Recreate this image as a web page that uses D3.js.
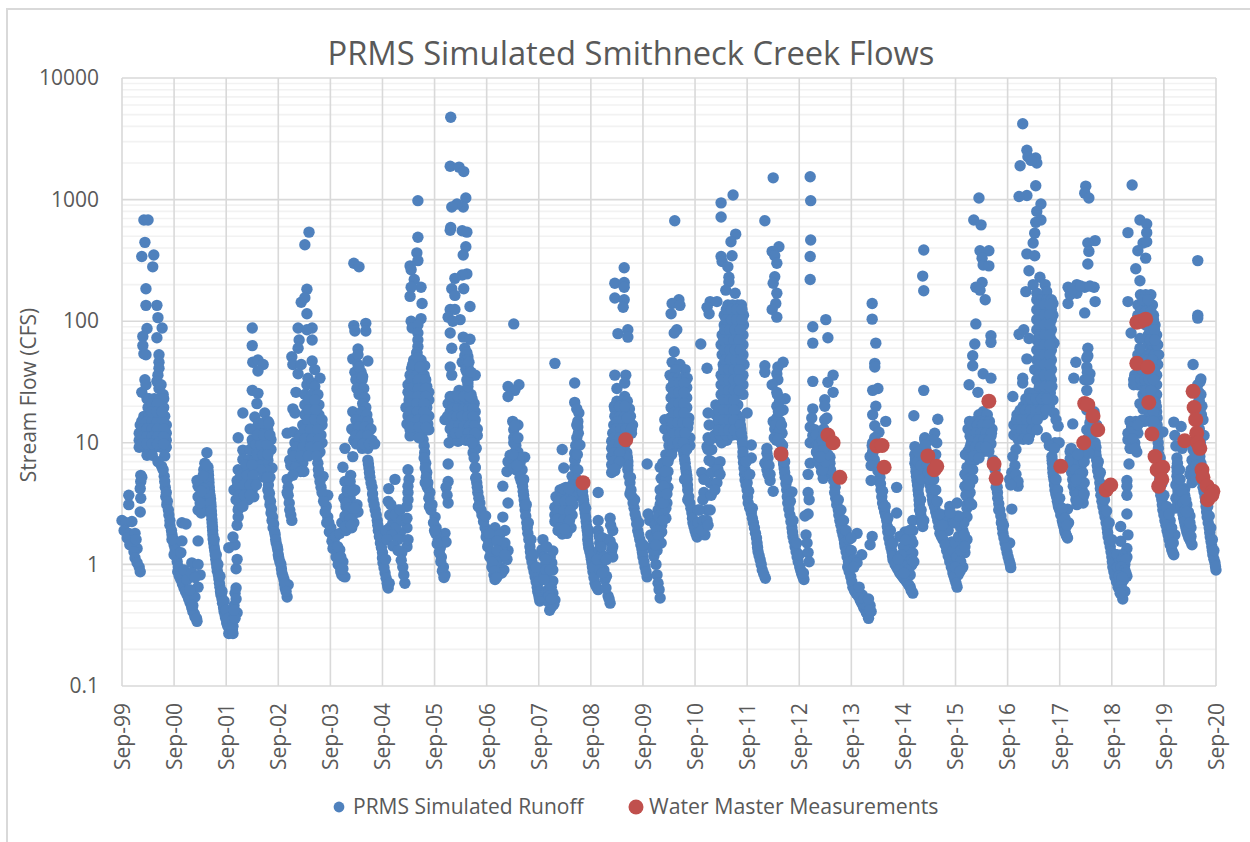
<!DOCTYPE html>
<html>
<head>
<meta charset="utf-8">
<script src="https://cdn.jsdelivr.net/npm/d3@7"></script>
<style>
  html, body { margin: 0; background: #fff; }
  svg { display: block; }
  text { font-family: "Open Sans", sans-serif; fill: #595959; }
</style>
</head>
<body>
<div id="chart"></div>
<script>
// each season: [years after that September, flow in cfs]
const season99 = [[0,2.3],[.08,2.2],[.19,2.25],[.04,1.9],[.13,1.8],[.1,1.65],[.25,1.8],[.15,1.45],[.29,1.35],[.23,1.27],[.25,1.13],[.29,1.03],[.33,.95],[.35,.87],[.27,1.6],[.13,3.7],[.13,3.1],[.36,3.5],[.35,2.7],[.36,5.4],[.36,4.8],[.35,4.2],[.38,5.2],
[.42,680],[.5,680],[.44,445],[.38,340],[.61,350],[.59,280],[.46,185],[.46,135],[.67,135],[.69,107],[.77,88],[.48,87],[.4,75],[.67,73],[.4,63],[.42,54],[.46,53],[.71,53],[.71,46],[.71,41],[.69,36],[.67,32],[.71,28],[.75,30],[.79,25],[.44,33],[.38,26],[.46,30],[.48,23],
[.52,23],[.62,23],[.72,23],[.8,23],[.5,19.5],[.6,19.5],[.7,19.5],[.8,19.5],[.42,16.5],[.52,16.5],[.62,16.5],[.72,16.5],[.82,16.5],[.35,14],[.45,14],[.55,14],[.65,14],[.75,14],[.85,14],[.33,12],[.43,12],[.53,12],[.63,12],[.73,12],[.85,12],[.33,10.5],[.43,10.5],[.53,10.5],[.63,10.5],[.73,10.5],[.85,10.5],[.33,9.2],[.43,9.2],[.53,9.2],[.63,9.2],[.75,9.2],[.85,9.2],[.48,7.9],[.58,7.9],[.82,7.8],
[.69,7],[.76,6.4],[.81,5.3],[.83,4.3],[.84,3.6],[.86,3.1],[.9,2.55],[.92,2.1],[.96,1.75],[1,1.45],[1.02,1.25],[1.06,1.05],[1.07,.87],[1.13,.75],[1.19,.64],[1.25,.56],[1.31,.48],[1.36,.41],[1.4,.37],[1.44,.34],
[.79,6],[.82,4.8],[.85,3.9],[.87,3.3],[.89,2.8],[.92,2.3],[.95,1.9],[.99,1.6],[1.02,1.35],[1.05,1.15],[1.08,.95],[1.1,.8],[1.16,.69],[1.22,.6],[1.28,.52],[1.34,.44],[1.39,.39],[1.43,.36],[1,1.2],[.96,1.6],
[.38,15],[.48,15],[.58,15],[.68,15],[.78,15],[.38,13],[.48,13],[.58,13],[.68,13],[.8,13],[.38,11.2],[.48,11.2],[.58,11.2],[.68,11.2],[.8,11.2],[.38,9.8],[.48,9.8],[.58,9.8],[.68,9.8],[.8,9.8],[.58,21],[.68,21],[.57,18],[.67,18],[.77,18]];
const season00 = [[.15,2.2],[.23,2.15],[.15,1.56],[.46,1.56],[.13,1.25],[.34,1.03],[.46,1],[.19,.9],[.5,.82],[.46,.65],[.25,.75],[.34,.85],[.4,.54],[.4,.78],[.3,.62],[.36,.46],
[.63,8.3],[.59,6.8],[.57,6],[.54,4.9],[.46,4.4],[.65,4.4],[.46,3.6],[.57,3.6],[.52,3.1],[.46,2.8],[.52,2.65],[.59,2.8],[.44,4.9],
[.65,6.3],[.66,5.4],[.67,4.7],[.68,4],[.7,3.45],[.71,3],[.72,2.55],[.73,2.2],[.74,1.9],[.75,1.62],[.77,1.39],[.79,1.2],[.81,1.03],[.83,.88],[.86,.76],[.88,.65],[.9,.56],[.93,.48],[.96,.41],[.99,.36],[1.03,.31],[1.05,.27],
[.655,5.8],[.665,5],[.675,4.3],[.69,3.7],[.705,3.2],[.715,2.75],[.725,2.35],[.735,2.05],[.745,1.75],[.76,1.5],[.78,1.3],[.8,1.1],[.82,.95],[.85,.82],[.87,.7],[.89,.6],[.92,.52],[.95,.44],[.98,.38],[1.01,.33],[.77,1.6],[.81,1.2],[.84,1],[.88,.8],[.92,.6],[.96,.5],[1,.42],[1.03,.36],[.57,4.2],[.52,4],[.5,3.2],[.56,5.4],[.62,6.5]];
const season01 = [[.17,.58],[.15,.46],[.21,.4],[.13,.35],[.11,.29],[.13,.27],[.19,.64],[.19,.92],[.21,1.1],[.05,1.37],[.17,1.45],[.13,1.68],[.21,2.1],[.23,2.45],[.23,11],[.32,17.6],[.24,2.9],[.26,3.4],
[.5,88],[.5,63],[.51,46],[.61,48],[.71,44],[.61,39],[.5,27],[.61,25.5],[.59,21],[.46,13],[.55,16.3],[.74,17.6],[.8,15],[.51,10.2],[.32,8.7],
[.32,7.3],[.44,7.3],[.23,6],[.34,6],[.46,6],[.21,4.9],[.32,4.9],[.44,4.9],[.55,4.9],[.15,4.1],[.26,4.1],[.38,4.1],[.5,4.1],[.19,3.4],[.3,3.4],[.42,3.4],[.53,3.6],[.23,2.8],[.32,3],
[.55,12.8],[.69,12.8],[.8,12.8],[.5,10.6],[.63,10.6],[.76,10.6],[.86,10.6],[.46,8.8],[.59,8.8],[.73,8.8],[.86,8.8],[.55,7.2],[.67,7.2],[.8,7.2],[.88,6.2],[.76,6],[.84,5.2],[.65,6],[.73,5.2],
[.8,4.1],[.82,3.6],[.84,3.1],[.86,2.65],[.88,2.3],[.9,2],[.94,1.75],[.96,1.5],[.99,1.32],[1.01,1.13],[1.05,1],[1.07,.85],[1.11,.75],[1.13,.64],[1.17,.54],[1.19,.68],
[.81,4.5],[.83,3.85],[.85,3.3],[.87,2.85],[.89,2.45],[.91,2.15],[.93,1.85],[.95,1.6],[.98,1.4],[1,1.2],[1.03,1.05],[1.06,.92],[1.09,.8],[1.12,.69],[1.15,.6],[.79,5.2],
[.38,6.6],[.5,6.6],[.28,5.4],[.4,5.4],[.52,5.4],[.22,4.5],[.34,4.5],[.46,4.5],[.58,4.5],[.25,3.7],[.35,3.7],[.46,3.7],[.6,8],[.7,8],[.8,8],[.57,9.7],[.66,9.7],[.78,9.7],[.6,11.6],[.72,11.6],[.84,11.6],[.62,14.5],[.72,14.5],[.82,14.5],[.13,.31],[.17,.36],[.19,.52],[.15,.42],[.12,.29]];
const season02 = [[.17,5],[.19,4.3],[.19,3.7],[.21,3.2],[.22,2.8],[.24,2.55],[.26,2.3],[.17,3.9],[.17,12],[.28,12.3],
[.59,540],[.51,425],[.55,183],[.44,143],[.51,156],[.55,115],[.38,88],[.65,88],[.55,85],[.65,70],[.4,70],[.38,60],[.26,51],[.65,47],[.28,44],[.44,44],[.38,37],[.7,40],[.8,34],[.57,34],[.55,30],[.65,31],[.7,29],[.34,26],[.28,19],[.32,17.6],
[.51,25],[.65,25],[.76,25],[.51,20.5],[.65,20.5],[.78,20.5],[.51,17],[.65,17],[.78,17],[.47,14],[.61,14],[.74,14],[.84,14],[.42,11.6],[.55,11.6],[.69,11.6],[.82,11.6],[.32,10],[.45,10],[.59,10],[.72,10],[.84,10],[.28,8.4],[.42,8.4],[.55,8.4],[.69,8.4],[.8,8.4],[.22,7.2],[.36,7.2],[.47,6.8],[.38,6.2],[.49,5.8],[.24,6.5],
[.76,6.8],[.78,5.4],[.82,4.3],[.86,5.3],[.88,3.6],[.92,3],[.95,3.7],[.95,2.45],[1.01,2],[1.05,1.68],[1.09,1.45],[1.13,1.25],[1.17,1.07],[1.18,1.32],[1.24,1.05],[1.2,.92],[1.22,.82],[1.28,.79],
[.77,6],[.8,4.8],[.84,3.9],[.87,3.3],[.9,2.7],[.93,2.2],[.98,1.85],[1.03,1.55],[1.07,1.35],[1.11,1.15],[1.15,1],[1.2,.87],[1.25,.8],[.97,2.2],[1,1.9],[1.05,1.35],[1.1,1.7],[1.14,1.4],[1.2,1.15],[1.24,.92],
[.58,22.5],[.7,22.5],[.58,18.7],[.72,18.7],[.56,15.5],[.7,15.5],[.84,15.5],[.5,12.8],[.62,12.8],[.76,12.8],[.4,10.8],[.52,10.8],[.65,10.8],[.78,10.8],[.35,9.2],[.48,9.2],[.62,9.2],[.76,9.2],[.3,7.8],[.43,7.8],[.58,7.8],[.74,7.8],[.33,6.2],[.43,5.8],[.28,5.4]];
const season03 = [[.28,9],[.43,7.7],[.24,6.3],[.39,5.4],[.32,4.1],[.26,3.5],[.38,3.5],[.41,4.2],[.47,4.1],[.3,3],[.41,3],[.51,3.1],[.32,2.55],[.43,2.55],[.53,2.7],[.22,2.2],[.34,2.2],[.45,2.2],[.18,1.8],[.3,1.9],[.41,2],[.28,4.8],[.38,4.8],
[.45,300],[.55,280],[.45,92],[.68,96],[.47,83],[.68,83],[.53,59],[.43,49],[.72,47],[.53,53],[.53,44],[.47,38],[.59,38],[.49,33],[.61,33],[.51,28],[.64,28],[.55,25],[.66,23.5],[.62,21],[.68,19.5],[.43,18],[.43,12.8],[.6,18],[.7,17],[.49,15.5],[.6,15],[.72,15],[.41,13],[.53,12.8],[.64,12.3],[.76,12.8],[.45,10.5],[.57,10.5],[.68,10.5],[.8,10.5],[.61,9],[.72,9],
[.72,7.2],[.74,6.2],[.76,5.2],[.8,4.3],[.82,3.4],[.86,2.8],[.9,2.3],[.92,1.9],[.96,1.5],[1,1.25],[1.01,1.03],[1.05,.85],[1.09,.7],[1.11,.64],
[.73,6.7],[.75,5.7],[.78,4.7],[.81,3.8],[.84,3.1],[.88,2.55],[.91,2.1],[.94,1.7],[.98,1.38],[1,1.13],[1.03,.94],[1.07,.77],[1.1,.67],[1.13,.7],[1.06,1.1],
[.55,13.5],[.66,13.5],[.78,13],[.49,11.5],[.6,11.5],[.72,11.5],[.5,9.8],[.63,9.8],[.75,9.8],[.85,9.8],[.55,42],[.62,35],[.33,4],[.43,4],[.3,3.2],[.36,2.9],[.47,2.9],[.28,2.5],[.38,2.35],[.3,2.05],[.4,2.1]];
const season04 = [[.24,5],[.12,4.2],[.11,3.3],[.49,6],[.51,5],[.49,3.9],[.47,3],[.3,2.8],[.2,2.2],[.47,2],[.34,1.8],[.47,1.4],[.37,1.25],[.39,.95],[.43,.7],[.16,3.1],[.14,2.55],[.24,2.55],[.14,2],[.26,2],[.37,2.3],[.47,2.4],[.34,2.8],[.07,1.9],[.18,1.75],[.3,1.6],[.09,1.6],[.2,1.42],[.3,1.3],[.36,1.08],[.41,.82],[.49,3.4],[.49,4.4],[.49,1.6],
[.68,980],[.68,490],[.66,365],[.68,315],[.53,285],[.55,265],[.61,220],[.74,190],[.55,190],[.53,160],[.76,140],[.55,100],[.74,105],[.57,88],[.68,93],[.68,80],[.68,70],[.68,62],[.66,55],
[.6,48],[.74,48],[.56,41],[.7,41],[.81,43],[.53,36],[.66,36],[.8,36],[.49,30],[.62,30],[.76,30],[.85,29],[.49,26],[.62,26],[.76,26],[.89,26],[.51,22.5],[.64,22.5],[.78,22.5],[.89,22.5],[.45,19.5],[.59,19.5],[.72,19.5],[.85,19.5],[.49,16.6],[.62,16.6],[.76,16.6],[.89,16.6],[.47,14.3],[.6,14.3],[.74,14.3],[.87,14.3],[.53,12.8],[.64,12.3],[.53,11.4],[.78,12.3],[.89,12.8],
[.78,10.6],[.8,9.4],[.81,8.3],[.83,6.8],[.85,5.7],[.87,4.7],[.91,3.9],[.95,3.1],[1.01,2.45],[1.03,2],[1.07,1.6],[1.11,1.37],[1.13,1.15],[1.17,.95],[1.2,.82],[1.2,1.8],[1.22,1.53],
[.8,7.5],[.82,6.2],[.84,5.2],[.86,4.3],[.89,3.5],[.93,2.8],[.98,2.2],[1.02,1.8],[1.05,1.48],[1.09,1.25],[1.12,1.05],[1.15,.88],[1.18,.78],[.82,4.7],[.9,3],[1,1.9],
[.55,33],[.69,33],[.83,33],[.55,28],[.69,28],[.83,28],[.53,24],[.68,24],[.83,24],[.52,21],[.66,21],[.8,21],[.53,18],[.67,18],[.8,18],[.55,15.4],[.68,15.4],[.82,15.4],[.55,13.4],[.7,13.4],[.84,13.4],[.7,11],[.58,44],[.66,55],[.68,50],[.72,42]];
const season05 = [[.31,4750],[.3,1880],[.47,1850],[.56,1700],[.6,1030],[.55,870],[.43,920],[.33,870],[.3,560],[.31,590],[.53,555],[.62,540],[.6,410],[.55,350],[.62,245],[.53,240],[.39,225],[.33,185],[.56,185],[.39,163],[.68,132],[.3,125],[.39,125],[.26,108],[.49,103],[.35,100],[.3,80],[.55,74],[.68,71],[.33,60],[.58,60],[.3,42],[.33,36],[.53,46],[.64,51],[.64,42],[.68,35],[.78,36],[.64,31],[.58,52],[.6,45],[.62,38],
[.47,27],[.58,26],[.7,25],[.3,24],[.4,24],[.5,23],[.62,23],[.72,23],[.26,21],[.36,21],[.46,20],[.56,20],[.66,21],[.76,21],[.3,18],[.4,18],[.5,17.5],[.6,17.5],[.7,18],[.78,18],[.2,15.5],[.3,15],[.38,14.5],[.48,15],[.58,15],[.68,15],[.78,15.5],[.3,13],[.42,13],[.52,13],[.62,13],[.72,13],[.82,13],[.35,11.5],[.45,11.5],[.58,12],[.72,11.5],[.82,11.5],[.28,10],[.45,10.3],[.52,10.8],[.76,10],[.8,9],
[.26,6.7],[.26,4.8],[.22,4.3],[.24,3.7],[.26,3.2],
[.74,8.3],[.78,6.3],[.76,9.3],[.79,5.1],[.81,4.7],[.83,3.9],[.87,3.2],[.91,2.55],[.97,2],[.99,1.68],[1.02,1.4],[1.06,1.15],[1.1,.95],[1.14,.82],[1.16,.75],
[1.31,2.45],[1.16,2],[1.35,1.9],[1.16,1.6],[1.25,1.75],[1.35,1.5],[1.41,1.3],[1.22,1.3],[1.31,1.15],[1.2,1.1],[1.39,1.1],[1.25,.95],[1.33,.9],[1.29,.85],[1.22,.82],[1.16,.8],
[.76,7.5],[.78,6.2],[.8,5.2],[.82,4.3],[.85,3.5],[.89,2.8],[.94,2.25],[1,1.85],[1.04,1.5],[1.08,1.27],[1.11,1.05],[1.15,.88],[1.19,.78],[.84,3],[.98,2.5],[1.05,1.8],
[.35,24],[.45,24],[.56,24],[.68,24],[.35,19],[.45,19],[.56,19],[.66,19],[.74,19],[.25,16.5],[.35,16.5],[.43,16.5],[.53,16.5],[.64,16.5],[.74,16.5],[.36,13.8],[.47,13.8],[.57,13.8],[.67,13.8],[.77,13.8],[.4,12],[.5,12],[.65,12],[.78,12],[.6,10.5],[.68,10.5],[.72,10],[.64,29],[.66,39],[.62,55],[.62,48],[.6,40],[.66,46],[.66,38],[.62,33],[.7,38],[1.25,1.5],[1.29,1.35],[1.25,1.2],[1.3,1.5],[1.2,1.55],[1.2,1.3],[1.35,1.2]];
const season06 = [[.52,95],[.41,29],[.62,30],[.54,27],[.41,24],[.31,4.4],[.41,3.2],
[.5,15],[.52,12.8],[.52,11],[.6,14],[.56,9.5],[.6,8.4],[.45,7.9],[.54,7.2],[.73,7.6],[.64,6.8],[.39,5.8],[.49,6.6],[.41,7],[.56,6],[.68,6],
[.64,5.2],[.68,4.7],[.7,4],[.72,3.4],[.74,2.8],[.77,2.2],[.79,1.8],[.83,1.4],[.85,1.15],[.89,.95],[.93,.79],[.97,.65],[1,.56],[1.02,.5],
[1.08,1.6],[1.06,1.32],[1.27,1.29],[1.25,1.03],[1.27,.9],[1.08,.95],[1.27,.73],[1.06,.8],[1.27,.58],[1.25,.45],[1.12,.51],[1.31,.51],[1.21,.42],[1.18,.62],[1.16,.77],[1.1,1.15],[1.19,.49],[1.29,.47],[1.18,.93],
[.66,4.9],[.69,4.4],[.71,3.7],[.73,3.1],[.75,2.5],[.78,2],[.81,1.6],[.84,1.27],[.87,1.05],[.91,.87],[.95,.72],[.98,.6],[1.01,.53],[.71,5],[.76,3.1],[.8,2.2],[.85,1.6],[.9,1.2],[.95,.95],[1,.72],[1.03,.6],
[.55,8.4],[.52,6.2],[.62,7.5],[.5,8],[.54,13.8],[.52,10],[.6,11],[.58,6.5],[1.15,.6],[1.2,.6],[1.22,.72],[1.14,.9],[1.22,.9],[1.15,1.4],[1.22,1.15],[1.24,.65],[1.1,.75],[1.13,1.1],[1.2,.55],[1.24,.52]];
const season07 = [[.31,45],[.69,31],[.69,21.5],[.45,8.8],[.48,6.2],
[.77,17.6],[.75,15],[.75,13.5],[.73,11],[.71,9.5],[.69,8.2],[.69,7.3],[.79,9.6],[.69,6.3],[.64,5.3],[.75,6],[.73,5],
[.41,4.1],[.52,4.3],[.64,4.5],[.71,4],[.33,3.6],[.45,3.6],[.56,3.6],[.68,3.6],[.31,2.95],[.42,3.1],[.54,2.95],[.66,3.1],[.31,2.55],[.42,2.55],[.54,2.55],[.64,2.55],[.31,2.25],[.42,2.1],[.54,2.1],[.62,2],[.37,1.9],[.45,1.78],[.54,1.8],
[.83,4.3],[.85,3.6],[.87,3.1],[.89,2.65],[.91,2.25],[.93,1.9],[.94,1.6],[.96,1.37],[1,1.17],[1.02,1.03],[1.04,.87],[1.08,.7],[1.14,.62],
[.84,3.95],[.86,3.35],[.88,2.85],[.9,2.45],[.92,2.05],[.94,1.75],[.95,1.48],[.98,1.27],[1.01,1.1],[1.03,.95],[1.06,.78],[1.1,.66],[.9,2.9],[.96,1.9],[1.03,1.2],
[.47,4.2],[.58,4.2],[.38,3.3],[.5,3.3],[.62,3.3],[.37,2.75],[.48,2.75],[.6,2.75],[.36,2.35],[.48,2.3],[.59,2.3],[.4,2],[.5,1.95],[.7,7.2],[.74,8],[.76,12],[.73,14],[.73,19]];
const season08 = [[.14,3.9],[.14,2.3],[.37,2.4],[.14,1.9],[.42,1.9],[.17,1.5],[.4,1.3],[.42,1.15],[.21,1.03],[.27,.75],[.33,.55],[.37,.48],[.16,1.7],[.16,1.32],[.21,1.2],[.25,.9],[.29,.64],[.17,.9],[.12,1.1],[.23,1.65],[.33,1.6],
[.64,275],[.46,205],[.64,208],[.64,190],[.46,155],[.64,150],[.62,130],[.71,85],[.52,79],[.71,74],[.46,36],[.67,36],[.5,28],[.65,31],[.65,24],
[.5,22],[.6,22],[.7,22],[.46,19],[.56,19],[.66,19],[.74,19],[.46,16.5],[.56,16.5],[.66,16.5],[.76,16.5],[.44,14],[.54,14],[.64,14],[.74,14],[.8,14],[.42,12],[.52,12],[.62,12],[.72,12],[.78,12],[.4,10.3],[.5,10.3],[.6,10.3],[.4,9],[.5,9],[.6,9],[.4,7.7],[.5,7.7],[.6,7.7],[.4,6.6],[.5,6.6],[.4,5.7],[.46,5.9],
[.69,8.3],[.71,7],[.71,6],[.75,4.7],[.79,3.6],[.83,2.9],[.87,2.4],[.9,1.9],[.94,1.6],[.98,1.34],[1,1.15],[1.04,.95],[1.08,.79],
[.7,7.6],[.71,6.5],[.73,5.3],[.77,4.1],[.81,3.2],[.85,2.6],[.88,2.15],[.92,1.75],[.96,1.45],[.99,1.25],[1.02,1.05],[1.06,.87],[.76,5.2],[.84,3.4],[.92,2.2],[1,1.45],[.75,3.8],
[.45,20],[.55,20],[.65,20],[.51,15],[.61,15],[.71,15],[.48,13],[.58,13],[.68,13],[.78,13],[.46,11],[.56,11],[.66,11],[.45,9.6],[.55,9.6],[.65,9.6],[.45,8.3],[.55,8.3],[.45,7.1],[.55,7],[.45,6.1],[.7,16],[.2,1.4],[.25,1.15],[.3,.8],[.35,.52],[.3,1.1],[.37,1.55],[.38,2.1],[.42,1.4],[.22,.85]];
const season09 = [[.17,1.39],[.21,1.17],[.25,1],[.27,.82],[.29,.7],[.31,.62],[.33,.53],[.13,2.3],[.15,1.75],[.1,2.6],[.08,6.7],[.33,6.3],[.42,15.5],[.42,13],[.48,11],[.38,6.8],[.48,5.8],[.42,4.7],[.38,3.9],[.46,3.2],[.33,3.1],[.44,2.4],[.36,1.85],[.23,2.1],[.33,2.3],[.23,1.6],[.36,2.1],[.29,2.8],[.36,2.8],[.33,4.1],[.42,3.4],[.48,4.3],[.35,1.5],[.27,1.3],[.35,5.1],
[.61,670],[.69,150],[.56,140],[.71,135],[.54,115],[.65,85],[.6,80],[.6,56],[.56,46],[.52,36],[.71,44],[.81,40],[.63,40],
[.58,34],[.68,34],[.78,34],[.85,34],[.54,28.5],[.64,28.5],[.74,28.5],[.84,28.5],[.54,23.5],[.64,23.5],[.74,23.5],[.84,23.5],[.54,19.5],[.64,19.5],[.74,19.5],[.84,19.5],[.52,16],[.62,16],[.72,16],[.82,16],[.88,16],[.56,13.3],[.66,13.3],[.76,13.3],[.86,13.3],[.53,11],[.63,11],[.73,11],[.83,11],[.9,11],[.5,9.5],[.58,9],[.8,9.3],[.86,9.5],[.9,9.5],[.44,8],[.5,7.5],
[.77,9.3],[.79,8],[.81,6.8],[.83,5.8],[.85,5],[.86,4.1],[.9,3.2],[.94,2.65],[.96,2.2],[1,1.9],[1.04,1.68],
[.78,8.5],[.8,7.3],[.82,6.2],[.84,5.4],[.855,4.5],[.88,3.6],[.92,2.9],[.95,2.4],[.98,2.05],[1.02,1.78],[.8,5],[.86,3.4],
[.59,31],[.69,31],[.79,31],[.59,26],[.69,26],[.79,26],[.59,21],[.69,21],[.79,21],[.59,17.5],[.69,17.5],[.79,17.5],[.57,14.6],[.67,14.6],[.77,14.6],[.87,14.6],[.61,12],[.71,12],[.81,12],[.58,10],[.68,10],[.78,10],[.84,8.8],[.55,8],[.48,7],[.4,5.4],[.45,5.1],[.42,5.8],[.3,2.5],[.34,3.5],[.4,2.6],[.44,2.9],[.39,3.2],[.38,2.3],[.27,1.9],[.2,1.6],[.3,1.7],[.4,4.4],[.46,3.8],[.2,1.3],[.24,1.45]];
const season10 = [[.11,65],[.23,41],[.25,17.6],[.27,14],[.25,11],[.23,9.3],[.32,8.8],[.32,7],[.13,5.7],[.29,4.7],[.23,3.7],[.06,2.8],[.23,2.8],[.06,2.2],[.09,1.85],[.42,4.7],[.48,7],[.42,11],[.61,10.5],[.63,13.5],
[.17,5],[.17,3.9],[.32,5.7],[.09,2.8],[.15,2.3],[.23,2.3],[.15,3.4],[.31,3.7],[.19,1.75],[.13,1.9],[.29,2.8],[.25,2.1],[.38,4.1],[.44,6],[.51,10],[.27,7.2],[.25,8.8],[.29,10.6],[.48,5.5],
[.73,1090],[.5,940],[.5,720],[.78,520],[.69,450],[.5,340],[.71,345],[.52,310],[.63,280],[.65,230],[.65,210],[.59,180],[.77,170],[.29,145],[.42,145],[.23,130],[.27,115],
[.63,136],[.72,136],[.82,136],[.89,136],[.56,112],[.65,112],[.75,112],[.85,112],[.93,112],[.56,93],[.65,93],[.75,93],[.85,93],[.93,93],[.52,77],[.62,77],[.72,77],[.82,77],[.92,77],[.5,64],[.6,64],[.7,64],[.8,64],[.92,64],[.52,53],[.62,53],[.72,53],[.82,53],[.92,53],[.54,44],[.64,44],[.74,44],[.84,44],[.94,44],[.5,36],[.6,36],[.7,36],[.8,36],[.92,36],[.5,30],[.6,30],[.7,30],[.8,30],[.92,30],[.5,25],[.6,25],[.7,25],[.8,25],[.92,25],
[.4,20.5],[.5,20.5],[.6,20.5],[.7,20.5],[.82,20.5],[.4,17],[.5,17],[.6,17],[.7,17],[.8,17],[.4,14],[.5,14],[.6,14],[.7,14],[.8,14],[.38,11.6],[.48,11.6],[.6,11.6],[.72,11.6],[.82,11.6],
[.86,15.4],[.88,13],[.9,11],[.92,9.3],[.92,7.7],[.94,6.2],[.96,4.95],[1,4.1],[1.02,3.2],[1.08,2.65],[1.12,2.2],[1.16,1.8],[1.19,1.5],[1.21,1.27],[1.25,1.09],[1.29,.9],[1.35,.77],[1.08,9.6],[1.08,7.5],[1,4.7],[1,17.6],
[.6,125],[.7,125],[.8,125],[.9,125],[.6,103],[.7,103],[.8,103],[.9,103],[.57,85],[.67,85],[.77,85],[.87,85],[.55,70],[.65,70],[.75,70],[.85,70],[.57,58],[.67,58],[.77,58],[.87,58],[.58,48],[.68,48],[.78,48],[.88,48],[.55,40],[.65,40],[.75,40],[.85,40],[.55,33],[.65,33],[.75,33],[.85,33],[.55,27],[.65,27],[.75,27],[.85,27],[.55,22.5],[.65,22.5],[.75,22.5],[.45,18.6],[.55,18.6],[.65,18.6],[.75,18.6],[.45,15.4],[.55,15.4],[.65,15.4],[.75,15.4],[.45,12.7],[.55,12.7],[.65,12.7],[.75,12.7],
[.87,14],[.89,12],[.91,10],[.92,8.4],[.93,6.9],[.95,5.5],[.98,4.5],[1.01,3.6],[1.05,2.9],[1.1,2.4],[1.14,2],[1.18,1.65],[1.2,1.38],[1.23,1.18],[1.27,1],[1.32,.83],[.96,6],[.98,7],[1.01,5.5],[1.03,4],[1.1,2.9],[1.05,5.5]];
const season11 = [[.5,1510],[.34,670],[.61,410],[.48,375],[.53,345],[.57,300],[.53,232],[.5,205],[.57,170],[.55,140],[.48,125],[.57,108],[.69,46],[.34,43],[.59,42],[.34,38],[.57,37],[.59,33],[.48,30],[.57,26],[.73,23],[.57,20],[.69,18.6],[.5,15],[.63,15],[.53,13],[.67,12],[.57,16],[.62,22],[.38,8.2],[.34,6.8],[.38,6],[.44,4.9],[.5,4],[.56,10.5],[.64,10],[.68,9.5],
[.67,9.6],[.69,7.3],[.71,6.2],[.73,5.2],[.76,4.1],[.78,3.2],[.82,2.55],[.86,2],[.88,1.7],[.92,1.4],[.96,1.15],[1.01,.95],[1.05,.83],[1.09,.75],[.86,3.95],
[.68,8.3],[.7,6.7],[.72,5.7],[.745,4.6],[.77,3.6],[.8,2.85],[.84,2.25],[.87,1.85],[.9,1.55],[.94,1.27],[.98,1.05],[1.03,.89],[1.07,.79],[.72,7],[.77,5],[.83,3.3],[.88,2.3],[.95,1.5],[1,1.2],[1.08,.85],
[.55,14],[.62,12.5],[.6,18],[.52,11],[.6,10.8],[.66,14],[.58,25],[.62,18],[.4,7.5],[.42,6.5],[.44,5.5],[.38,9],[.4,5.5]];
const season12 = [[.13,1.75],[.15,1.5],[.17,1.25],[.19,1.05],[.21,1540],[.22,980],[.22,465],[.21,340],[.21,220],[.26,90],[.51,103],[.26,66],[.55,73],[.26,32],[.65,36],[.55,31.5],[.65,26],[.49,22.6],[.49,20],[.53,16],[.26,19],[.24,16],[.21,13.5],[.21,10],[.26,11.5],[.34,8.3],[.21,6.8],[.17,5.5],[.17,3.9],[.19,3.4],[.17,2.6],[.11,2.5],
[.3,12.8],[.3,10.6],[.34,9.6],[.4,8.8],[.36,7.2],[.4,6.6],[.46,6.8],[.43,5.8],[.46,5.1],[.49,6],[.59,7.6],[.51,8],[.49,15.5],[.47,13],[.4,10.6],[.55,9.6],
[.59,6.8],[.63,5.5],[.69,4.3],[.7,3.5],[.75,2.8],[.78,2.3],[.82,1.9],[.86,1.62],[.88,1.4],[.92,1.15],[.93,.95],[.99,.79],[1.03,.65],[1.09,.58],[1.17,.51],[1.21,.47],[1.27,.42],[1.31,.39],[1.33,.36],[1.28,.48],[1.21,.56],[1.36,.46],[1.38,.41],
[.6,6],[.66,4.9],[.68,3.9],[.72,3.1],[.76,2.55],[.8,2.1],[.84,1.75],[.87,1.5],[.9,1.27],[.945,1.05],[.96,.87],[1.01,.72],[1.06,.61],[1.13,.55],[1.19,.49],[1.24,.44],[1.29,.4],[.75,3.4],[.8,2.8],[.85,2.3],[.9,1.9],[.95,1.6],[1,1.3],[1.05,1.1],[1.25,.52],[1.3,.45],[1.35,.42],[1.33,.52],[1.15,.65],
[.33,11.7],[.38,9.7],[.42,7.6],[.45,6],[.33,8.4],[.5,7],[.55,8],[.47,9],[.44,10.5],[.48,12],[.52,11],[.4,7.7]];
const season13 = [[.11,1.8],[0,1.65],[.4,1.7],[.36,1.45],[.2,1.2],[.11,1.03],[.05,.95],[.4,140],[.4,104],[.47,66],[.45,45],[.45,42],[.51,28],[.41,27],[.47,20],[.41,17],[.66,15],[.45,13.8],[.53,12.2],[.36,7.7],[.38,4.9],[.87,4.3],[.87,2.65],[.41,10],[.41,8.5],[.4,9.5],[.45,11],
[.41,8.2],[.47,6.6],[.55,5.2],[.57,4.1],[.6,3.2],[.64,2.7],[.68,2.3],[.7,1.85],[.74,1.5],[.78,1.27],[.8,1.09],[.87,.95],[.93,.85],[.99,.79],[1.03,.75],[1.09,.69],[1.13,.65],[1.18,.58],
[1.03,1.85],[1.18,2.3],[1.18,1.9],[1.18,1.5],[1.03,1.4],[1.18,1.24],[1.16,.99],[.93,1.7],[1.09,1.6],[1.09,1.3],[1.01,1.15],[1.11,1.09],[1.05,.9],[.99,1],[1.13,.82],
[.44,7.3],[.51,5.9],[.56,4.6],[.585,3.6],[.62,2.95],[.66,2.5],[.69,2.05],[.72,1.65],[.76,1.38],[.79,1.17],[.84,1],[.9,.9],[.96,.82],[1.01,.77],[1.06,.72],[1.11,.67],[1.15,.61],[.6,4],[.65,3],[.7,2.4],[.75,1.9],[.8,1.5],
[1.12,1.9],[1.12,1.5],[1.06,1.2],[1.12,1.25],[1.15,1.6],[1,1.4],[.96,1.2],[1.04,1.6],[1.1,.9],[1.01,.85],[1.16,1.1],[1.2,1.05],[.9,1.1],[.42,7],[.38,6.5],[.44,9.5]];
const season14 = [[.39,385],[.37,235],[.39,178],[.39,27],[.2,16.7],[.66,15.6],[.22,9.3],[.41,11],[.6,12],[.64,10],[.22,6.8],[.26,4.9],[.37,2.3],
[.22,8],[.24,6.8],[.24,5.8],[.28,4.1],[.3,3.4],[.31,2.8],[.35,2.4],[.37,2.05],[.39,2.3],
[.41,10.6],[.43,8.8],[.47,7.2],[.45,6],[.51,5.4],[.51,4.5],[.55,3.7],[.57,3.2],[.62,2.7],[.66,2.3],[.7,1.8],[.76,1.6],[.83,1.3],[.89,1.05],[.95,.85],[.99,.75],[1.03,.65],[.55,10.6],[.62,8],
[.89,3],[1.03,3.2],[1.22,2.9],[1.12,2.45],[1.22,2.45],[1.14,1.9],[1.22,1.6],[1.08,1.5],[1.18,1.25],[1.14,.95],[1.05,.82],[.89,2.3],[.8,2.55],[.86,1.9],[.93,1.53],[.99,1.2],[1.08,1.08],[.95,1.09],
[.23,7.4],[.24,6.3],[.25,5.3],[.27,4.5],[.29,3.75],[.305,3.1],[.33,2.6],[.36,2.2],[.28,7],[.3,5.5],[.3,4.5],[.33,3.4],[.34,2.8],[.29,8.4],[.35,5],[.34,6.5],
[.42,9.6],[.45,8],[.46,6.6],[.48,5.7],[.51,5],[.53,4.1],[.56,3.4],[.6,2.95],[.64,2.5],[.68,2.05],[.73,1.7],[.8,1.45],[.86,1.17],[.92,.95],[.97,.8],[1.01,.7],[.58,5],[.62,4.1],[.65,3.3],[.7,2.6],[.75,2.1],
[.95,1.3],[1,1.5],[1.06,1.7],[1.1,2],[1.16,2.2],[1.02,1.15],[1.1,1.3],[1.17,1.75],[1.18,1.4],[1.1,1.05],[.98,2.2],[1.05,2.5],[.9,2.65],[1,.95],[1.09,.88]];
const season15 = [[.45,1030],[.35,680],[.49,620],[.47,380],[.64,380],[.51,330],[.53,290],[.64,285],[.51,208],[.39,190],[.47,180],[.57,150],[.39,95],[.68,76],[.68,67],[.37,65],[.33,52],[.33,43],[.53,37],[.68,34],[.26,30],[.43,26],
[.53,18],[.45,17],[.61,17],[.27,15],[.37,15],[.47,15],[.57,15],[.65,15],[.24,13],[.34,13],[.44,13],[.54,13],[.64,13],[.7,13],[.28,11.3],[.38,11.3],[.48,11.3],[.58,11.3],[.68,11.3],[.3,9.8],[.4,9.8],[.5,9.8],[.6,9.8],[.68,9.8],[.24,8.5],[.34,8.5],[.44,8.5],[.54,8.5],[.64,8.5],[.19,8],
[.22,6.3],[.18,5.5],[.28,5.2],[.18,4.4],[.28,3.9],[.37,7.2],[.33,6],[.24,3.6],[.31,3.1],[.22,3.1],
[.72,7.2],[.76,6],[.8,4.3],[.81,3.5],[.85,2.8],[.89,2.25],[.91,1.8],[.95,1.5],[.99,1.25],[1.03,1.07],[1.06,.94],[1.04,1.5],
[.74,6.6],[.78,5.1],[.805,3.9],[.83,3.15],[.87,2.5],[.9,2],[.93,1.65],[.97,1.37],[1.01,1.15],[1.05,1],[.78,4.3],[.83,2.8],[.88,2.2],[.92,2.1],
[.32,14],[.42,14],[.52,14],[.62,14],[.29,12],[.39,12],[.49,12],[.59,12],[.69,12],[.35,10.5],[.45,10.5],[.55,10.5],[.65,10.5],[.28,9.2],[.38,9.2],[.48,9.2],[.58,9.2],[.28,7.3],[.35,7.8],[.45,7.5],[.24,5],[.33,5],[.2,3.7],[.27,4.5],[.24,4.5],[.28,3.2]];
const season16 = [[.08,2.85],[.1,24],[.16,8.8],[.1,7.7],[.14,6.5],[.08,5.7],[.04,5],[.2,4.4],[.16,5.5],[.2,4.8],[.06,4.5],
[.29,4200],[.37,2550],[.39,2250],[.54,2200],[.24,1900],[.56,2000],[.45,2100],[.54,1300],[.37,1080],[.22,1060],[.64,920],[.56,800],[.64,680],[.54,650],[.52,530],[.49,440],[.37,358],[.52,345],[.41,260],[.62,230],[.49,200],[.72,200],[.35,175],[.75,175],[.56,170],[.87,140],[.87,112],[.22,78],[.31,85],[.41,72],[.89,66],[.37,49],[.52,40],[.29,34],[.29,31],
[.56,150],[.66,150],[.76,150],[.84,150],[.56,124],[.66,124],[.76,124],[.84,124],[.56,103],[.66,103],[.76,103],[.84,103],[.56,85],[.66,85],[.76,85],[.84,85],[.56,70],[.66,70],[.76,70],[.84,70],[.56,58],[.66,58],[.76,58],[.84,58],[.56,48],[.66,48],[.76,48],[.84,48],[.56,40],[.66,40],[.76,40],[.84,40],[.56,33],[.66,33],[.76,33],[.84,33],
[.42,25.7],[.52,25.7],[.62,25.7],[.72,25.7],[.82,25.7],[.3,20],[.4,20],[.5,20],[.6,20],[.7,20],[.8,20],[.18,17],[.28,17],[.38,17],[.48,17],[.58,17],[.68,17],[.12,14],[.22,14],[.32,14],[.42,14],[.52,14],[.12,11.6],[.22,11.6],[.32,11.6],[.42,11.6],
[.85,29],[.87,22.5],[.89,17.6],[.93,15.5],[.97,13.7],[.74,11],[.91,10],[.99,10],
[.85,7.7],[.86,6.8],[.87,5.7],[.89,5],[.91,4.1],[.94,3.6],[.97,3.1],[1,2.8],[1.05,2.3],[1.08,2.05],[1.11,1.8],[1.15,1.65],[1.15,2.85],[1.17,2.2],[.88,9],
[.61,137],[.71,137],[.81,137],[.61,113],[.71,113],[.81,113],[.61,94],[.71,94],[.81,94],[.61,77],[.71,77],[.81,77],[.61,64],[.71,64],[.81,64],[.61,53],[.71,53],[.81,53],[.61,44],[.71,44],[.81,44],[.61,36],[.71,36],[.81,36],[.61,29],[.71,29],[.81,29],
[.35,23],[.45,23],[.55,23],[.65,23],[.75,23],[.24,18.5],[.34,18.5],[.44,18.5],[.54,18.5],[.64,18.5],[.74,18.5],[.17,15.5],[.27,15.5],[.37,15.5],[.47,15.5],[.57,15.5],[.17,12.8],[.27,12.8],[.37,12.8],[.47,12.8],[.57,12.8],[.2,10.7],[.3,10.7],[.4,10.7],
[.855,7.2],[.865,6.2],[.88,5.3],[.9,4.5],[.925,3.8],[.955,3.3],[.98,2.95],[1.02,2.55],[1.065,2.15],[1.095,1.9],[1.13,1.72],[.9,6.5],[.93,5],[.96,4.1],[1,3.5],[1.05,2.9],[1.1,2.4],[1.14,2.1],[.8,9.5],[.9,9]];
const season17 = [[.2,8.5],[.2,7.4],[.23,6.6],[.23,5.7],[.25,5],[.26,4.4],[.29,3.9],[.31,3.4],[.33,3.1],[.39,7.7],[.33,7],[.3,8.2],[.27,8],[.39,6.5],[.41,5.5],[.43,4.8],[.43,4.1],[.45,3.6],[.45,3.2],[.36,6],[.36,5],[.34,4.2],[.39,4.5],[.41,3.9],[.28,6.5],[.46,8.5],[.25,14.3],
[.5,1290],[.48,1130],[.56,1030],[.68,460],[.54,440],[.56,375],[.54,295],[.16,190],[.33,200],[.48,190],[.66,190],[.16,140],[.33,170],[.68,145],[.48,117],[.2,165],[.25,185],[.4,195],[.58,195],
[.54,60],[.52,50],[.31,46],[.52,42],[.58,37],[.27,34],[.48,33],[.52,27],[.54,52],[.53,38],[.56,33],
[.52,18.6],[.58,14.6],[.52,12.8],[.66,18],[.71,14],[.58,12],[.6,10],[.62,8.5],[.52,10],
[.68,10],[.69,8.4],[.71,7.2],[.73,5.9],[.77,4.7],[.79,3.7],[.83,3],[.87,2.45],[.91,2],[.93,1.68],[.97,1.4],[1,1.15],[1.02,.95],[1.06,.79],[1.12,.65],
[.695,9.2],[.7,7.8],[.72,6.5],[.75,5.3],[.78,4.2],[.81,3.3],[.85,2.7],[.89,2.2],[.92,1.83],[.95,1.53],[.985,1.27],[1.01,1.05],[1.04,.87],[1.09,.72],[.74,7],[.78,5.7],[.82,4.2],[.86,3.4],[.9,2.75],[.95,2.2],[1,1.6],[1.06,1.2],[1.1,.95],
[.22,9],[.24,7.2],[.27,5.5],[.29,4.8],[.32,3.7],[.35,3.3],[.37,7],[.41,6.5],[.44,5.7],[.47,4.7],[.47,3.8],[.47,7],[.3,6],[.35,8],[.38,5.5],[.32,5],[.55,11],[.57,9],[.6,16],[.63,12],[.56,8.2]];
const season18 = [[.17,2.05],[.17,1.55],[.31,1.75],[.29,1.35],[.29,1.15],[.29,.8],[.19,.7],[.15,.9],[.19,1.2],[.25,1],[.17,.6],[.23,.75],[.25,.6],[.21,.52],[.1,1.2],[.15,1.1],[.2,1.1],[.27,1.1],[.12,.95],[.18,.95],[.25,.9],[.27,.85],[.14,.8],[.2,.78],[.16,.66],[.2,.62],[.16,.58],
[.33,6.7],[.29,4.9],[.29,4.4],[.29,3.7],[.29,2.6],
[.39,1320],[.54,680],[.67,630],[.31,535],[.67,535],[.6,440],[.67,450],[.5,380],[.65,330],[.46,270],[.54,215],[.31,145],
[.55,165],[.65,165],[.75,165],[.5,136],[.6,136],[.7,136],[.78,136],[.5,112],[.6,112],[.7,112],[.8,112],[.65,93],[.75,93],[.83,93],[.7,77],[.78,77],[.86,77],[.7,64],[.78,64],[.88,64],
[.5,53],[.58,53],[.66,53],[.74,53],[.82,53],[.9,53],[.46,44],[.54,44],[.62,44],[.7,44],[.78,44],[.88,44],[.44,36],[.52,36],[.6,36],[.68,36],[.76,36],[.86,36],[.42,30],[.5,30],[.58,30],[.66,30],[.76,30],[.86,30],[.6,25],[.7,25],[.8,25],[.86,25],
[.37,80],[.54,72],[.54,60],[.79,78],[.87,64],[.42,33],[.58,33],[.54,21],
[.58,15.4],[.41,13.5],[.31,10.6],[.48,8.4],[.5,12],[.35,12],[.44,10],[.31,12],[.35,9],[.46,15],[.35,15],
[.83,24],[.85,19.7],[.87,16],[.87,12.7],[.89,10],[.9,8],[.9,6],[.92,5],[.92,4.1],[.96,3.4],[.98,2.8],[1.02,2.3],[1.06,1.9],[1.1,1.6],[1.15,1.32],[1.19,1.2],[.98,12.3],[1.21,1.75],[1.12,2.3],
[.84,21.5],[.86,18],[.87,14],[.88,11.2],[.895,9],[.9,7],[.91,5.5],[.92,4.5],[.94,3.7],[.97,3.1],[1,2.55],[1.04,2.1],[1.08,1.75],[1.12,1.45],[1.17,1.25],[.96,4.6],[1,3.7],[1.05,3],[1.1,2.6],[1.15,2],[1.18,1.5],[.93,7.5],[.95,5.5],
[.6,150],[.7,150],[.55,120],[.65,120],[.75,120],[.7,103],[.8,103],[.73,85],[.82,85],[.74,70],[.83,70],[.62,48],[.7,48],[.78,48],[.58,40],[.66,40],[.74,40],[.82,40],[.56,33],[.64,33],[.72,33],[.8,33],[.65,27],[.75,27],[.7,22],[.8,22],[.85,20],[.6,19],[.7,18],[.8,18],[.62,15],[.74,15],[.8,15],
[.38,13.5],[.44,12.5],[.5,14],[.4,10.8],[.38,9],[.45,9]];
const season19 = [[.19,14.8],[.33,13.6],[.21,11.5],[.23,9.4],[.35,9],
[.25,7.5],[.25,6.3],[.25,5.3],[.27,4.4],[.27,3.8],[.31,3.2],[.35,2.8],[.38,2.4],[.41,2.1],[.44,1.85],[.48,1.65],[.54,1.45],[.21,2.9],[.23,4.5],[.23,3.5],[.4,4.2],[.4,3.7],[.44,3.1],[.47,2.7],[.5,2.5],[.52,2],[.46,2.3],[.38,4],[.31,4],
[.65,315],[.65,112],[.65,106],[.56,44],[.71,33.5],
[.65,30],[.67,26],[.67,22],[.65,18.6],[.65,15.4],[.63,12],[.6,10.4],[.56,8.8],[.54,7.2],[.54,5.2],[.52,6],[.54,4.7],[.71,25],[.5,5.5],[.73,20],[.75,15.5],[.77,11.5],
[.69,7.7],[.73,6],[.75,4.3],[.79,3.6],[.81,3],[.83,2.45],[.87,2],[.89,1.68],[.92,1.4],[.94,1.2],[.98,1.03],[1,.9],
[.26,6.8],[.255,5.8],[.26,4.8],[.27,4.1],[.29,3.5],[.33,3],[.365,2.6],[.395,2.25],[.425,1.97],[.46,1.75],[.51,1.55],[.3,6],[.31,5],[.34,4],[.37,3.2],[.41,2.8],[.47,1.95],[.42,3.4],[.44,2.7],[.5,2.2],[.52,1.7],
[.71,6.8],[.74,5.1],[.77,3.95],[.8,3.3],[.82,2.7],[.85,2.2],[.88,1.83],[.905,1.54],[.93,1.3],[.96,1.1],[.99,.96],[.77,4.8],[.8,4],[.84,3],[.87,2.5],[.9,2],[.93,1.6],[.96,1.3],
[.63,17],[.68,13],[.7,10],[.66,9],[.6,8],[.62,6.5],[.58,5.5],[.62,5],[.7,32],[.68,22],[.72,17],[.66,15]];
const seasons = [season99, season00, season01, season02, season03, season04, season05, season06, season07, season08, season09, season10, season11, season12, season13, season14, season15, season16, season17, season18, season19];

// water master readings, years since Sep-99 and cfs
const measureYears = [8.85,9.67,12.65,13.55,13.65,13.78,14.49,14.59,14.63,15.47,15.59,15.64,16.64,16.74,16.78,18.02,18.46,18.48,18.54,18.64,18.73,18.89,18.98,19.48,19.56,19.65,19.48,19.69,19.71,19.77,19.83,19.87,19.98,19.96,19.9,20.56,20.58,20.61,20.63,20.4,20.65,20.69,20.73,20.75,20.83,20.84,20.94,20.92];
const measureFlows = [4.7,10.6,8.1,11.6,10,5.2,9.4,9.5,6.3,7.8,6,6.4,22,6.7,5.1,6.4,10,21,20.5,16.6,12.8,4.1,4.5,98,100,104,45,42,21.5,11.8,7.7,6,6.3,5,4.4,26.5,19.5,15.5,12,10.4,10,9,6,5.2,4.4,3.4,4,3.7];

const yearLabels = ['Sep-99','Sep-00','Sep-01','Sep-02','Sep-03','Sep-04','Sep-05','Sep-06','Sep-07','Sep-08','Sep-09','Sep-10','Sep-11','Sep-12','Sep-13','Sep-14','Sep-15','Sep-16','Sep-17','Sep-18','Sep-19','Sep-20'];
const decades = [0.1, 1, 10, 100, 1000, 10000];
const minorSteps = [2, 3, 4, 5, 6, 7, 8, 9];

const width = 1250;
const height = 842;
const margin = { top: 78, right: 34, bottom: 156, left: 122 };
const blue = '#4f81bd';
const red = '#c0504d';

const svg = d3.select('#chart').append('svg')
    .attr('width', width)
    .attr('height', height);

// chart frame runs off the right and bottom of the picture
svg.append('rect')
    .attr('x', 7).attr('y', 9)
    .attr('width', width + 20).attr('height', height + 20)
    .attr('fill', 'none')
    .attr('stroke', '#d9d9d9')
    .attr('stroke-width', 2);

const x = d3.scaleLinear()
    .domain([0, yearLabels.length - 1])
    .range([margin.left, width - margin.right]);

const y = d3.scaleLog()
    .domain([0.1, 10000])
    .range([height - margin.bottom, margin.top]);

const minorValues = decades.slice(0, -1).flatMap((d) => minorSteps.map((m) => d * m));

svg.append('g').selectAll('line')
    .data(minorValues)
    .enter()
    .append('line')
    .attr('x1', x.range()[0]).attr('x2', x.range()[1])
    .attr('y1', (d) => y(d)).attr('y2', (d) => y(d))
    .attr('stroke', '#f2f2f2')
    .attr('stroke-width', 1.6);

svg.append('g').selectAll('line')
    .data(decades)
    .enter()
    .append('line')
    .attr('x1', x.range()[0]).attr('x2', x.range()[1])
    .attr('y1', (d) => y(d)).attr('y2', (d) => y(d))
    .attr('stroke', '#d9d9d9')
    .attr('stroke-width', 1.6);

svg.append('g').selectAll('line')
    .data(yearLabels)
    .enter()
    .append('line')
    .attr('x1', (d, i) => x(i)).attr('x2', (d, i) => x(i))
    .attr('y1', y.range()[0]).attr('y2', y.range()[1])
    .attr('stroke', '#d9d9d9')
    .attr('stroke-width', 1.6);

const yAxis = d3.axisLeft(y)
    .tickValues(decades)
    .tickFormat((d) => String(d))
    .tickSize(0)
    .tickPadding(23);

const xAxis = d3.axisBottom(x)
    .tickValues(yearLabels.map((d, i) => i))
    .tickFormat((i) => yearLabels[i])
    .tickSize(0);

const yAxisG = svg.append('g')
    .attr('transform', `translate(${margin.left}, 0)`)
    .call(yAxis);
yAxisG.select('.domain').remove();
yAxisG.selectAll('text').style('font-size', '21px');

const xAxisG = svg.append('g')
    .attr('transform', `translate(0, ${height - margin.bottom})`)
    .call(xAxis);
xAxisG.select('.domain').remove();
xAxisG.selectAll('text')
    .style('font-size', '21px')
    .attr('transform', 'rotate(-90)')
    .attr('text-anchor', 'end')
    .attr('x', -17)
    .attr('y', 0)
    .attr('dy', '0.35em');

const simulated = seasons.flatMap((season, i) => season.map((d) => [i + d[0], d[1]]));

svg.append('g').selectAll('circle')
    .data(simulated)
    .enter()
    .append('circle')
    .attr('cx', (d) => x(d[0]))
    .attr('cy', (d) => y(d[1]))
    .attr('r', 5.7)
    .attr('fill', blue);

svg.append('g').selectAll('circle')
    .data(measureYears)
    .enter()
    .append('circle')
    .attr('cx', (d) => x(d))
    .attr('cy', (d, i) => y(measureFlows[i]))
    .attr('r', 7.5)
    .attr('fill', red);

svg.append('text')
    .attr('x', 631)
    .attr('y', 65)
    .attr('text-anchor', 'middle')
    .style('font-size', '32.7px')
    .text('PRMS Simulated Smithneck Creek Flows');

svg.append('text')
    .attr('transform', 'translate(29, 395) rotate(-90)')
    .attr('text-anchor', 'middle')
    .attr('dy', '0.35em')
    .style('font-size', '21px')
    .text('Stream Flow (CFS)');

// legend
svg.append('circle').attr('cx', 339).attr('cy', 807).attr('r', 5.4).attr('fill', blue);
svg.append('text').attr('x', 353).attr('y', 814).style('font-size', '21px').text('PRMS Simulated Runoff');
svg.append('circle').attr('cx', 636).attr('cy', 807).attr('r', 7.5).attr('fill', red);
svg.append('text').attr('x', 649).attr('y', 814).style('font-size', '21.3px').text('Water Master Measurements');
</script>
</body>
</html>
